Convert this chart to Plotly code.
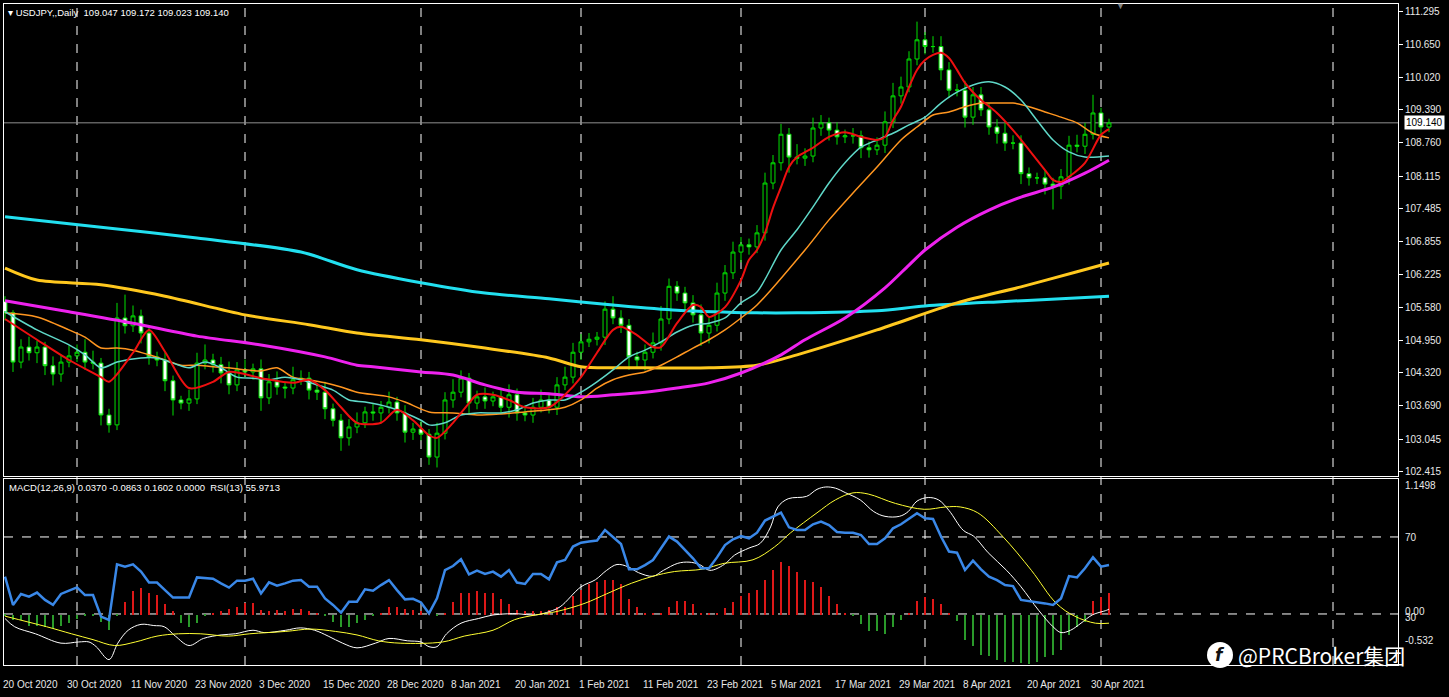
import plotly.graph_objects as go

# ---- data (bar index 0 = 20 Oct 2020) ----
closes = [105.48, 104.53, 104.82, 104.71, 104.82, 104.46, 104.30, 104.53, 104.65, 104.72,
          104.53, 104.51, 103.51, 103.32, 105.38, 105.23, 105.42, 105.09, 104.63, 104.57,
          104.17, 103.80, 103.74, 103.82, 104.51, 104.57, 104.48, 104.32, 104.09, 104.38,
          104.34, 104.40, 103.84, 104.15, 104.05, 104.03, 104.19, 104.22, 103.99, 103.95,
          103.63, 103.41, 103.07, 103.28, 103.36, 103.57, 103.55, 103.66, 103.76, 103.55,
          103.18, 103.24, 103.14, 102.70, 103.16, 103.80, 103.95, 104.22, 103.74, 103.86,
          103.78, 103.86, 103.66, 103.90, 103.55, 103.51, 103.66, 103.80, 103.66, 104.09,
          104.24, 104.72, 104.92, 104.97, 105.01, 105.55, 105.38, 105.24, 104.63, 104.57,
          104.72, 104.90, 105.36, 105.99, 105.86, 105.67, 105.44, 105.09, 105.24, 105.86,
          106.25, 106.65, 106.79, 106.75, 107.02, 107.98, 108.37, 108.92, 108.48, 108.46,
          108.50, 109.04, 109.14, 109.00, 108.87, 108.89, 108.89, 108.66, 108.62, 108.71,
          109.16, 109.66, 109.83, 110.37, 110.74, 110.61, 110.61, 110.16, 109.77, 109.77,
          109.25, 109.68, 109.39, 109.06, 108.94, 108.75, 108.75, 108.16, 108.08, 108.08,
          107.96, 107.92, 108.10, 108.71, 108.69, 108.92, 109.33, 109.06, 109.14]
first_open = 105.70
wick_up = [0.10, 0.05, 0.15, 0.20, 0.12, 0.10, 0.18, 0.12, 0.20, 0.15,
           0.25, 0.22, 0.10, 0.12, 0.29, 0.45, 0.20, 0.12, 0.15, 0.10,
           0.15, 0.10, 0.08, 0.18, 0.20, 0.30, 0.12, 0.15, 0.22, 0.15,
           0.20, 0.10, 0.18, 0.15, 0.20, 0.10, 0.25, 0.15, 0.12, 0.10,
           0.20, 0.10, 0.12, 0.15, 0.20, 0.10, 0.15, 0.12, 0.20, 0.10,
           0.15, 0.12, 0.15, 0.10, 0.20, 0.15, 0.25, 0.15, 0.10, 0.12,
           0.18, 0.10, 0.15, 0.20, 0.12, 0.15, 0.18, 0.20, 0.10, 0.15,
           0.20, 0.18, 0.15, 0.12, 0.10, 0.15, 0.25, 0.15, 0.12, 0.10,
           0.15, 0.20, 0.25, 0.15, 0.10, 0.12, 0.15, 0.20, 0.15, 0.20,
           0.15, 0.20, 0.15, 0.12, 0.15, 0.20, 0.15, 0.20, 0.12, 0.25,
           0.15, 0.20, 0.15, 0.10, 0.15, 0.12, 0.15, 0.10, 0.12, 0.15,
           0.20, 0.25, 0.20, 0.15, 0.35, 0.15, 0.20, 0.20, 0.15, 0.12,
           0.18, 0.15, 0.15, 0.12, 0.15, 0.20, 0.15, 0.15, 0.12, 0.10,
           0.15, 0.12, 0.15, 0.18, 0.20, 0.22, 0.35, 0.10, 0.08]
wick_dn = [0.15, 0.19, 0.12, 0.15, 0.20, 0.18, 0.22, 0.15, 0.10, 0.12,
           0.15, 0.12, 0.20, 0.15, 0.10, 0.15, 0.12, 0.20, 0.15, 0.12,
           0.20, 0.30, 0.12, 0.15, 0.10, 0.12, 0.15, 0.20, 0.18, 0.12,
           0.10, 0.15, 0.25, 0.12, 0.15, 0.20, 0.12, 0.10, 0.18, 0.15,
           0.20, 0.12, 0.25, 0.15, 0.12, 0.10, 0.15, 0.20, 0.12, 0.15,
           0.20, 0.15, 0.12, 0.15, 0.20, 0.12, 0.15, 0.10, 0.20, 0.12,
           0.15, 0.10, 0.12, 0.20, 0.15, 0.12, 0.15, 0.10, 0.12, 0.15,
           0.10, 0.12, 0.15, 0.10, 0.12, 0.15, 0.12, 0.15, 0.25, 0.15,
           0.20, 0.12, 0.15, 0.10, 0.15, 0.20, 0.15, 0.25, 0.20, 0.12,
           0.15, 0.12, 0.20, 0.15, 0.12, 0.15, 0.12, 0.15, 0.30, 0.12,
           0.15, 0.12, 0.15, 0.20, 0.15, 0.12, 0.15, 0.20, 0.15, 0.10,
           0.15, 0.12, 0.15, 0.10, 0.12, 0.15, 0.12, 0.20, 0.15, 0.12,
           0.20, 0.15, 0.12, 0.15, 0.20, 0.15, 0.12, 0.20, 0.15, 0.12,
           0.20, 0.45, 0.25, 0.15, 0.12, 0.15, 0.10, 0.15, 0.10]

# moving averages (read at sparse bars)
red_idx = [0, 4, 8, 12, 13, 16, 18, 20, 23, 26, 28, 32, 36, 38, 40, 42, 44, 47, 49, 51, 53, 54, 56, 58, 59, 61,
           63, 65, 68, 70, 72, 74, 76, 77, 79, 81, 82, 84, 86, 87, 88, 90, 92, 93, 94, 95, 96, 97, 98, 99, 101,
           103, 105, 107, 109, 110, 111, 112, 113, 114, 115, 116, 117, 118, 119, 120, 121, 122, 124, 126, 128,
           130, 131, 132, 133, 135, 137, 138]
red_val = [105.36, 104.96, 104.57, 104.24, 104.15, 104.71, 105.15, 104.73, 104.03, 104.15, 104.34, 104.22,
           104.13, 104.19, 103.99, 103.66, 103.36, 103.36, 103.61, 103.41, 103.12, 103.07, 103.36, 103.74,
           103.90, 103.90, 103.80, 103.66, 103.66, 103.90, 104.24, 104.71, 105.15, 105.21, 105.05, 104.82,
           104.82, 105.28, 105.63, 105.59, 105.40, 105.59, 106.11, 106.50, 106.69, 107.02, 107.50, 107.90,
           108.29, 108.48, 108.66, 108.87, 108.96, 108.87, 108.81, 108.87, 109.19, 109.45, 109.83, 110.16,
           110.35, 110.45, 110.49, 110.39, 110.16, 109.91, 109.73, 109.58, 109.33, 109.00, 108.62, 108.23,
           108.04, 108.00, 108.10, 108.37, 108.91, 109.02]
teal_idx = [0, 4, 8, 10, 12, 14, 17, 19, 21, 23, 25, 27, 29, 31, 33, 35, 37, 39, 41, 43, 45, 48, 50, 52, 53, 55,
            57, 59, 62, 64, 66, 68, 70, 72, 74, 76, 78, 80, 82, 84, 86, 88, 90, 92, 94, 97, 99, 101, 103, 105,
            107, 109, 111, 113, 115, 117, 119, 121, 123, 125, 127, 129, 131, 133, 135, 138]
teal_val = [105.50, 105.15, 104.86, 104.67, 104.42, 104.53, 104.61, 104.61, 104.51, 104.42, 104.53, 104.42,
            104.24, 104.22, 104.19, 104.24, 104.19, 104.09, 103.99, 103.80, 103.76, 103.66, 103.55, 103.41,
            103.32, 103.36, 103.51, 103.55, 103.55, 103.61, 103.74, 103.80, 103.80, 103.95, 104.15, 104.38,
            104.63, 104.76, 104.92, 105.11, 105.24, 105.28, 105.38, 105.67, 105.88, 106.69, 107.08, 107.52,
            107.98, 108.37, 108.67, 108.81, 108.94, 109.10, 109.25, 109.52, 109.73, 109.87, 109.93, 109.83,
            109.58, 109.19, 108.81, 108.58, 108.48, 108.50]
orange_idx = [0, 4, 8, 10, 12, 14, 16, 18, 20, 22, 24, 26, 28, 30, 32, 34, 36, 38, 40, 42, 44, 48, 50, 53, 56,
              59, 62, 65, 68, 70, 72, 74, 76, 78, 80, 82, 84, 86, 88, 90, 92, 94, 100, 103, 106, 109, 112, 114,
              116, 118, 120, 122, 124, 126, 128, 130, 132, 134, 136, 138]
orange_val = [105.48, 105.40, 105.15, 105.01, 104.80, 104.80, 104.76, 104.67, 104.57, 104.47, 104.47, 104.44,
              104.42, 104.38, 104.36, 104.42, 104.24, 104.19, 104.13, 104.05, 103.95, 103.86, 103.76, 103.57,
              103.55, 103.51, 103.53, 103.57, 103.61, 103.66, 103.80, 104.03, 104.19, 104.28, 104.34, 104.47,
              104.63, 104.80, 104.96, 105.15, 105.38, 105.63, 106.69, 107.27, 107.79, 108.29, 108.81, 109.06,
              109.29, 109.35, 109.45, 109.52, 109.52, 109.52, 109.45, 109.35, 109.25, 109.14, 108.94, 108.85]
magenta_idx = [0, 8, 16, 24, 32, 40, 44, 46, 52, 56, 60, 64, 68, 72, 76, 80, 84, 88, 92, 97, 100, 105, 110,
               113, 115, 119, 123, 127, 131, 135, 138]
magenta_val = [105.71, 105.50, 105.28, 105.03, 104.86, 104.63, 104.47, 104.44, 104.34, 104.28, 104.09, 103.95,
               103.92, 103.86, 103.90, 103.95, 104.03, 104.13, 104.32, 104.67, 104.96, 105.38, 105.96, 106.40,
               106.69, 107.13, 107.46, 107.71, 107.90, 108.17, 108.42]
gold_idx = [0, 4, 12, 20, 30, 38, 44, 52, 60, 68, 72, 76, 80, 88, 94, 99, 109, 119, 127, 134, 138]
gold_val = [106.34, 106.11, 106.02, 105.80, 105.44, 105.25, 105.09, 104.96, 104.80, 104.61, 104.44, 104.42,
            104.42, 104.42, 104.47, 104.67, 105.15, 105.67, 105.98, 106.27, 106.44]
aqua_idx = [0, 12, 24, 37, 44, 52, 60, 68, 76, 84, 94, 99, 109, 115, 124, 132, 138]
aqua_val = [107.33, 107.13, 106.92, 106.65, 106.31, 106.06, 105.86, 105.75, 105.63, 105.53, 105.48, 105.48,
            105.52, 105.61, 105.69, 105.75, 105.80]

# indicator window
rsi = [49.4, 34.7, 40.4, 39.0, 41.1, 37.3, 34.7, 40.4, 42.1, 43.8, 39.8, 39.8, 28.6, 26.9, 55.8, 54.6, 55.8,
       52.0, 46.3, 46.3, 42.4, 38.5, 38.5, 38.6, 49.0, 48.5, 48.3, 45.9, 43.7, 47.3, 47.3, 48.3, 40.7, 46.4,
       44.7, 45.9, 47.3, 47.6, 44.2, 44.2, 38.1, 34.7, 30.7, 36.4, 36.4, 42.8, 42.1, 45.0, 47.6, 42.4, 37.6,
       37.9, 36.0, 30.3, 38.1, 52.8, 54.9, 58.4, 50.6, 52.5, 50.8, 52.0, 49.4, 52.8, 46.3, 45.6, 50.8, 50.8,
       48.0, 56.8, 58.0, 65.0, 67.0, 67.6, 68.1, 73.6, 70.2, 66.3, 53.2, 53.2, 55.4, 58.0, 64.1, 70.2, 67.6,
       63.2, 58.9, 53.7, 53.7, 59.4, 65.8, 68.8, 70.5, 69.3, 72.2, 78.5, 80.6, 82.6, 75.0, 73.6, 73.6, 76.6,
       78.0, 76.2, 72.6, 72.2, 72.2, 71.0, 66.3, 66.3, 69.3, 74.5, 76.6, 79.3, 82.3, 79.7, 79.3, 70.2, 62.4,
       61.8, 52.8, 57.7, 53.2, 49.4, 47.6, 45.0, 44.5, 37.3, 36.7, 36.4, 35.5, 34.7, 38.1, 49.7, 49.0, 53.7,
       59.4, 54.6, 55.4]
osma = [-0.01, -0.04, -0.04, -0.09, -0.09, -0.10, -0.12, -0.09, -0.07, -0.03, -0.01, -0.01, -0.06, -0.13,
        -0.01, 0.11, 0.20, 0.23, 0.19, 0.17, 0.09, 0.03, -0.07, -0.10, -0.07, -0.01, 0.01, 0.03, 0.05, 0.07,
        0.10, 0.10, 0.04, 0.03, 0.04, 0.03, 0.05, 0.05, 0.03, 0.01, -0.01, -0.06, -0.10, -0.10, -0.07, -0.04,
        -0.01, 0.01, 0.07, 0.07, 0.05, 0.04, 0.03, 0.01, -0.01, 0.01, 0.11, 0.19, 0.19, 0.20, 0.19, 0.19, 0.14,
        0.09, 0.04, 0.03, 0.03, 0.03, 0.04, 0.07, 0.07, 0.16, 0.21, 0.26, 0.28, 0.30, 0.30, 0.26, 0.14, 0.07,
        0.01, 0.01, 0.01, 0.07, 0.12, 0.12, 0.09, 0.01, 0.01, 0.01, 0.06, 0.11, 0.16, 0.19, 0.21, 0.30, 0.38,
        0.45, 0.42, 0.37, 0.30, 0.28, 0.24, 0.16, 0.09, 0.01, -0.01, -0.08, -0.14, -0.14, -0.16, -0.10, -0.04,
        0.01, 0.12, 0.15, 0.14, 0.09, 0.01, -0.05, -0.21, -0.26, -0.34, -0.35, -0.38, -0.40, -0.40, -0.41,
        -0.42, -0.40, -0.36, -0.34, -0.30, -0.17, -0.10, -0.06, 0.12, 0.15, 0.19]
macd_idx = [0, 1.2, 3.8, 7, 9.2, 10.5, 11.4, 13, 14.1, 15.4, 17, 18.6, 19.9, 21.3, 23, 24.8, 27, 28.8, 31, 32.4,
            35.1, 36.9, 38.7, 40.4, 42.2, 44, 46.3, 48, 50.3, 52, 53, 54, 55.2, 57, 59.2, 61, 62.8, 64.1, 66.3,
            68.1, 69.4, 72, 73.8, 75.2, 76.5, 77.9, 79.2, 81, 82.3, 84.1, 85.5, 86.8, 88.1, 89.9, 91.2, 93,
            94.4, 95.7, 96.6, 97.9, 100.2, 101.5, 102.6, 103.8, 105.1, 106.9, 108.6, 110, 111.8, 112.9, 114,
            115.4, 116.7, 118, 119.8, 121.1, 122.9, 125.2, 127, 129.2, 131, 132, 133.2, 134.5, 135.9, 137.7, 138]
macd_val = [-0.03, -0.10, -0.16, -0.24, -0.23, -0.23, -0.27, -0.38, -0.24, -0.13, -0.08, -0.09, -0.10, -0.18,
            -0.26, -0.20, -0.17, -0.16, -0.13, -0.15, -0.13, -0.11, -0.13, -0.18, -0.24, -0.28, -0.24, -0.20,
            -0.22, -0.23, -0.27, -0.27, -0.16, -0.07, -0.03, 0.00, 0.01, 0.01, 0.00, 0.03, 0.07, 0.24, 0.30,
            0.38, 0.43, 0.41, 0.36, 0.33, 0.38, 0.44, 0.45, 0.43, 0.38, 0.43, 0.51, 0.57, 0.61, 0.75, 0.92,
            0.99, 1.01, 1.07, 1.09, 1.08, 1.04, 0.98, 0.88, 0.84, 0.84, 0.88, 0.97, 1.00, 0.98, 0.89, 0.72,
            0.67, 0.53, 0.38, 0.24, 0.04, -0.10, -0.15, -0.13, -0.07, 0.00, 0.04, 0.05]
signal_idx = [0, 2.9, 5.2, 8.3, 11, 13.7, 16.3, 19, 21.7, 24.4, 27.9, 30.6, 35.1, 38.2, 41.3, 44, 46.7, 49.4,
              54.7, 57.4, 61, 63.7, 66.3, 69, 72.5, 75.2, 78.3, 81, 83.7, 87.2, 89.9, 93.5, 96.2, 98.2, 101.5,
              103.8, 106, 107.9, 111.3, 114.9, 117.6, 119.4, 121.6, 124.7, 128.3, 131.4, 133.7, 136.3, 138]
signal_val = [-0.01, -0.06, -0.10, -0.16, -0.21, -0.26, -0.23, -0.18, -0.16, -0.16, -0.18, -0.16, -0.14,
              -0.12, -0.14, -0.17, -0.22, -0.24, -0.23, -0.18, -0.13, -0.04, 0.00, 0.03, 0.10, 0.18, 0.27,
              0.33, 0.37, 0.39, 0.44, 0.47, 0.58, 0.70, 0.87, 0.98, 1.04, 1.03, 0.95, 0.90, 0.92, 0.92, 0.87,
              0.67, 0.38, 0.10, -0.01, -0.07, -0.07]

date_ticks = [0, 8, 16, 24, 32, 40, 48, 56, 64, 72, 80, 88, 96, 104, 112, 120, 128, 136]
date_labels = ["20 Oct 2020", "30 Oct 2020", "11 Nov 2020", "23 Nov 2020", "3 Dec 2020", "15 Dec 2020",
               "28 Dec 2020", "8 Jan 2021", "20 Jan 2021", "1 Feb 2021", "11 Feb 2021", "23 Feb 2021",
               "5 Mar 2021", "17 Mar 2021", "29 Mar 2021", "8 Apr 2021", "20 Apr 2021", "30 Apr 2021"]
month_grid = [9, 30, 52, 72, 92, 115, 137, 166]
price_ticks = [111.295, 110.650, 110.020, 109.390, 108.760, 108.115, 107.485, 106.855, 106.225, 105.580,
               104.950, 104.320, 103.690, 103.045, 102.415]
last_price = 109.140

bars = list(range(len(closes)))
opens = [first_open] + closes[:-1]
highs = [max(o, c) + w for o, c, w in zip(opens, closes, wick_up)]
lows = [min(o, c) - w for o, c, w in zip(opens, closes, wick_dn)]

W, H = 1449, 697
L, R, T, B = 4, 51, 4, 32


def fx(px):
    return (px - L) / (W - L - R)


def fy(py):
    return (H - B - py) / (H - T - B)


FONT = "Liberation Sans"
fig = go.Figure()

fig.add_trace(go.Candlestick(
    x=bars, open=opens, high=highs, low=lows, close=closes, xaxis="x", yaxis="y",
    increasing=dict(line=dict(color="#00e000", width=1), fillcolor="#000000"),
    decreasing=dict(line=dict(color="#00e000", width=1), fillcolor="#ffffff"),
    whiskerwidth=0, showlegend=False, hoverinfo="skip"))

ma_lines = [(aqua_idx, aqua_val, "#22e0f0", 3), (gold_idx, gold_val, "#ffc81e", 3),
            (magenta_idx, magenta_val, "#ee22ee", 3), (orange_idx, orange_val, "#ff9620", 1.5),
            (teal_idx, teal_val, "#5fd8c8", 1.5), (red_idx, red_val, "#ee1010", 2)]
for ix, vals, col, w in ma_lines:
    fig.add_trace(go.Scatter(x=ix, y=vals, mode="lines", line=dict(color=col, width=w, shape="spline", smoothing=0.8),
                             xaxis="x", yaxis="y", showlegend=False, hoverinfo="skip"))

fig.add_trace(go.Bar(x=bars, y=osma, width=0.18, xaxis="x2", yaxis="y2", showlegend=False,
                     marker=dict(color=["#dd1818" if v > 0 else "#2a9a2a" for v in osma], line=dict(width=0)),
                     hoverinfo="skip"))
fig.add_trace(go.Scatter(x=macd_idx, y=macd_val, mode="lines", line=dict(color="#ffffff", width=1, shape="spline"),
                         xaxis="x2", yaxis="y2", showlegend=False, hoverinfo="skip"))
fig.add_trace(go.Scatter(x=signal_idx, y=signal_val, mode="lines", line=dict(color="#ffff33", width=1, shape="spline"),
                         xaxis="x2", yaxis="y2", showlegend=False, hoverinfo="skip"))
fig.add_trace(go.Scatter(x=bars, y=rsi, mode="lines", line=dict(color="#3a88e8", width=2.5),
                         xaxis="x2", yaxis="y3", showlegend=False, hoverinfo="skip"))

xr = [-0.125, -0.125 + (W - L - R) / 8]
axis_common = dict(showgrid=False, zeroline=False, showline=True, linecolor="#ffffff", linewidth=1, mirror=True)
shapes = []
for g in month_grid:
    shapes.append(dict(type="line", xref="x", yref="paper", x0=g, x1=g, y0=0, y1=1, layer="below",
                       line=dict(color="#ffffff", width=1, dash="dash")))
for lv in [70, 30]:
    shapes.append(dict(type="line", xref="paper", yref="y3", x0=0, x1=1, y0=lv, y1=lv, layer="below",
                       line=dict(color="#ffffff", width=1, dash="dash")))
shapes.append(dict(type="line", xref="paper", yref="y", x0=0, x1=1, y0=last_price, y1=last_price, layer="below",
                   line=dict(color="#909090", width=1)))
shapes.append(dict(type="circle", xref="paper", yref="paper", x0=fx(1207), x1=fx(1233), y0=fy(668), y1=fy(642),
                   fillcolor="#ffffff", line=dict(width=0)))


def label(text, px, py, size=10, color="#e8e8e8", family=FONT, xanchor="left", **kw):
    return dict(x=fx(px), y=fy(py), xref="paper", yref="paper", xanchor=xanchor, yanchor="middle",
                showarrow=False, text=text, font=dict(color=color, size=size, family=family), **kw)


ann = []
for t, lab in zip(date_ticks, date_labels):
    ann.append(dict(x=t, xref="x2", y=fy(684), yref="paper", text=lab, showarrow=False, xanchor="left",
                    yanchor="middle", xshift=-4, font=dict(color="#e8e8e8", size=10, family=FONT)))
ann.append(label("▾ USDJPY,,Daily  109.047 109.172 109.023 109.140", 6, 12, size=9.5, color="#ffffff"))
ann.append(label("MACD(12,26,9) 0.0370 -0.0863 0.1602 0.0000  RSI(13) 55.9713", 7, 487, size=9.5, color="#ffffff"))
ann.append(dict(x=1.004, xref="paper", yref="y", y=last_price, showarrow=False, xanchor="left", yanchor="middle",
                text="109.140", bgcolor="#ffffff", font=dict(color="#000000", size=10, family=FONT)))
for txt, py in [("1.1498", 485), ("70", 537), ("0.00", 611), ("30", 617), ("-0.532", 640)]:
    ann.append(label(txt, 1403, py))
ann.append(label("▼", 1120, 6, size=9, color="#808080", xanchor="center"))
ann.append(label("<b><i>f</i></b>", 1220, 655, size=17, color="#111111", family="DejaVu Sans", xanchor="center"))
ann.append(label("@PRCBroker集团", 1236, 655, size=21, color="#ffffff", family="Noto Sans CJK SC"))

fig.update_layout(
    width=W, height=H, margin=dict(l=L, r=R, t=T, b=B),
    paper_bgcolor="#000000", plot_bgcolor="#000000", bargap=0,
    xaxis=dict(domain=[0, 1], range=xr, anchor="y", showticklabels=False, **axis_common),
    xaxis2=dict(domain=[0, 1], range=xr, anchor="y2", showticklabels=False, **axis_common),
    yaxis=dict(domain=[fy(476), 1], range=[102.335, 111.43], side="right", tickvals=price_ticks,
               ticktext=["%.3f" % v for v in price_ticks], ticks="outside", ticklen=4, tickcolor="#ffffff",
               tickfont=dict(color="#e8e8e8", size=10, family=FONT), **axis_common),
    yaxis2=dict(domain=[0, fy(479)], range=[-0.426, 1.158], showticklabels=False, anchor="x2", **axis_common),
    yaxis3=dict(overlaying="y2", range=[3.5, 100.1], showticklabels=False, showgrid=False, zeroline=False,
                anchor="x2", side="right"),
    shapes=shapes, annotations=ann,
)
fig.update_xaxes(rangeslider_visible=False)

fig.write_html("out.html", config={"displayModeBar": False},
               post_script="document.body.style.margin='0';document.body.style.overflow='hidden';")
